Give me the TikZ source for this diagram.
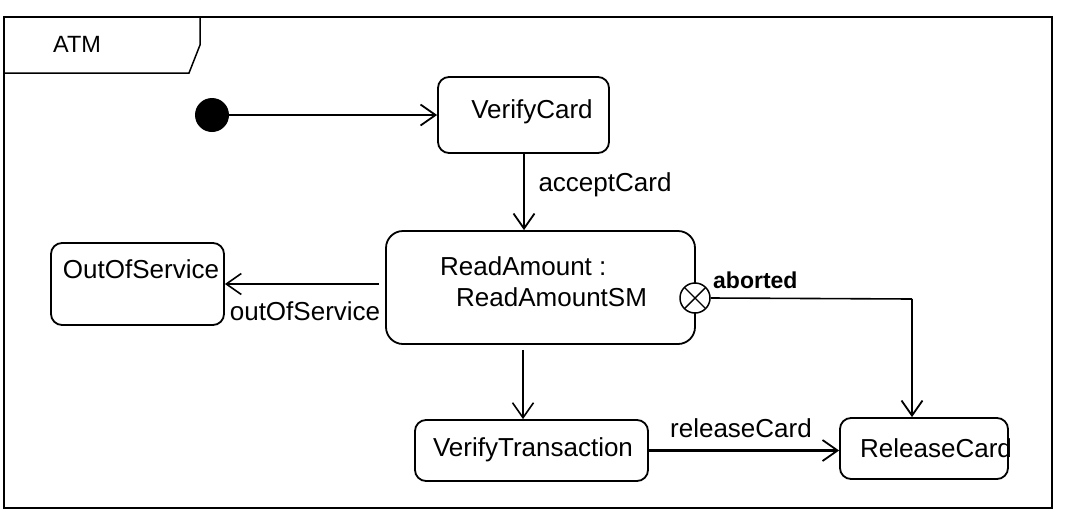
\documentclass[tikz,border=0pt]{standalone}
\usepackage{fontspec}
\setmainfont{Liberation Sans}
\usetikzlibrary{arrows.meta}
\begin{document}
\begin{tikzpicture}[x=1pt,y=-1pt,
  statebox/.style={draw, line width=1.8pt, rounded corners=11pt, inner sep=0, fill=white},
  lbl/.style={inner sep=0, font=\fontsize{26}{31}\selectfont, anchor=base},
  lblw/.style={lbl, anchor=base west},
  arr/.style={line width=1.8pt, -{Straight Barb[length=15pt,width=21pt]}},
  thinarr/.style={line width=1.2pt, -{Straight Barb[length=15pt,width=21pt,line width=1.6pt]}},
  thickarr/.style={line width=2.8pt, -{Straight Barb[length=15pt,width=21pt,line width=1.8pt]}}
]
\useasboundingbox (0,0) rectangle (1072,520);
% frame
\draw[line width=1.8pt] (4,17) rectangle (1052,508);
\draw[line width=1.5pt] (4,73) -- (189,73) -- (200,45) -- (200,17);
\node[lbl, font=\fontsize{23.5}{28}\selectfont] (atm) at (77,52) {ATM};
% states
\node[fill=black, circle, minimum size=34pt, inner sep=0, draw=none] (init) at (212,115) {};
\node[statebox, minimum width=171pt, minimum height=76pt] (vc) at (523.5,115) {};
\node[lbl] (vct) at (532,118) {VerifyCard};
\node[statebox, rounded corners=17pt, minimum width=309pt, minimum height=113pt] (ra) at (540.5,287.5) {};
\node[lblw] (rat1) at (440,275) {ReadAmount :};
\node[lblw] (rat2) at (456,306) {ReadAmountSM};
\node[statebox, minimum width=173pt, minimum height=82pt] (oos) at (137.5,284) {};
\node[lbl] (oost) at (141,278) {OutOfService};
\node[statebox, minimum width=233pt, minimum height=61pt] (vt) at (531.5,450.5) {};
\node[lbl] (vtt) at (533,456) {VerifyTransaction};
\node[statebox, minimum width=168pt, minimum height=61pt] (rc) at (924,448.5) {};
\node[lblw] (rct) at (860,457) {ReleaseCard};
% exit point
\node[draw, circle, line width=1.5pt, fill=white, minimum size=30pt, inner sep=0,
  path picture={\draw[line width=1.4pt] (path picture bounding box.north west) -- (path picture bounding box.south east)
  (path picture bounding box.north east) -- (path picture bounding box.south west);}] (ex) at (695,298) {};
\coordinate (bend) at (912,299);
\coordinate (ax) at (524,0);
\coordinate (bx) at (523,0);
% connectors
\draw[arr] (init.east) -- (vc.west);
\draw[arr] (vc.south -| ax) -- (ax |- ra.north);
\node[lbl] (acc) at (605,191) {acceptCard};
\draw[thinarr] ([xshift=-6pt]ra.west |- oos.east) -- (oos.east);
\node[lbl] (oosl) at (305,320) {outOfService};
\draw[line width=1.6pt] (ex.east) -- (bend);
\draw[arr] (bend) -- (bend |- rc.north);
\node[lblw, font=\bfseries\fontsize{23}{28}\selectfont] (abl) at (713,288) {aborted};
\draw[thinarr] ([yshift=-5pt]bx |- ra.south) -- (bx |- vt.north);
\draw[thickarr] (vt.east) -- (vt.east -| rc.west);
\node[lbl] (rcl) at (741,437) {releaseCard};
\end{tikzpicture}
\end{document}
